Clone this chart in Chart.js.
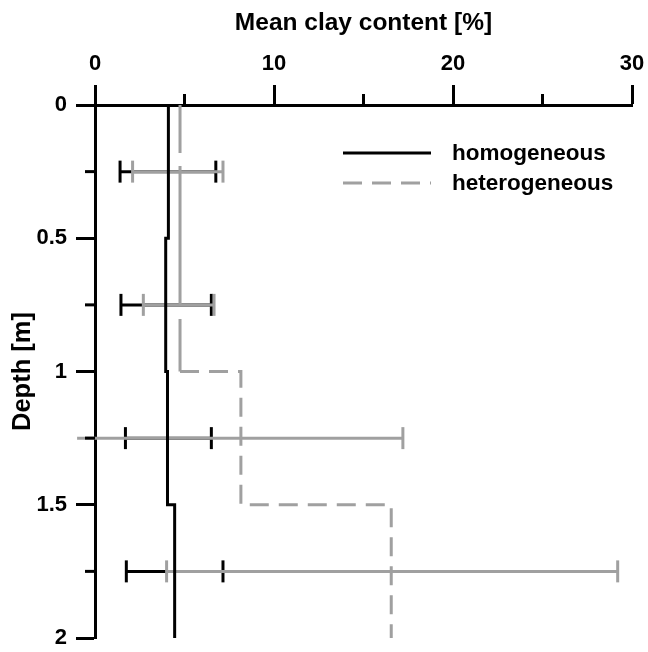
<!DOCTYPE html>
<html>
<head>
<meta charset="utf-8">
<script src="https://cdn.jsdelivr.net/npm/chart.js@4/dist/chart.umd.min.js"></script>
<style>
  html, body { margin: 0; padding: 0; background: #fff; }
  #wrap { width: 648px; height: 652px; position: relative; }
</style>
</head>
<body>
<div id="wrap"><canvas id="clayChart"></canvas></div>
<script>
// depth layers [m] and mean clay content [%] per layer
const depthEdges = [0, 0.5, 1.0, 1.5, 2.0];
const homogeneousMean = [4.1, 3.95, 4.05, 4.45];
const heterogeneousMean = [4.75, 4.75, 8.15, 16.55];

// range bars at mid-layer depths
const barDepths = [0.25, 0.75, 1.25, 1.75];
const homogeneousLow = [1.4, 1.45, 1.7, 1.75];
const homogeneousHigh = [6.75, 6.5, 6.5, 7.15];
const heterogeneousLow = [2.1, 2.7, -1.0, 4.0];
const heterogeneousHigh = [7.15, 6.65, 17.2, 29.2];

const BLACK = '#000000';
const GREY = '#a0a0a0';
const FONT = 'Liberation Sans, Arial, sans-serif';

function stepPoints(means) {
    const pts = [];
    means.forEach((m, i) => {
        pts.push({x: m, y: depthEdges[i]});
        pts.push({x: m, y: depthEdges[i + 1]});
    });
    return pts;
}

function rangeBars(low, high, color) {
    return barDepths.map((d, i) => ({
        label: 'range',
        data: [{x: low[i], y: d}, {x: high[i], y: d}],
        borderColor: color,
        backgroundColor: color,
        borderWidth: 3,
        pointStyle: 'line',
        pointRotation: 90,
        pointRadius: 11,
        pointBorderWidth: 3,
        pointBorderColor: color,
        showLine: true,
        fill: false,
        clip: false
    }));
}

// upper metre of the dashed profile is drawn with long dashes in the original
const upperRun = c => c.p1.parsed.y <= 1 && c.p0.parsed.x === c.p1.parsed.x;

const datasets = [
    {
        label: 'homogeneous',
        data: stepPoints(homogeneousMean),
        borderColor: BLACK,
        borderWidth: 3,
        pointRadius: 0,
        showLine: true,
        fill: false
    },
    {
        label: 'heterogeneous',
        data: stepPoints(heterogeneousMean),
        borderColor: GREY,
        borderWidth: 3,
        borderDash: [19, 10],
        pointRadius: 0,
        showLine: true,
        fill: false,
        segment: {
            borderDash: c => upperRun(c) ? [140, 13] : [19, 10],
            borderDashOffset: c => upperRun(c) ? 92 : 0
        }
    },
    ...rangeBars(heterogeneousLow, heterogeneousHigh, GREY),
    ...rangeBars(homogeneousLow, homogeneousHigh, BLACK)
];

// short minor ticks + legend drawn in the plot area
const extras = {
    id: 'extras',
    afterDraw(chart) {
        const ctx = chart.ctx;
        const xs = chart.scales.x, ys = chart.scales.y;
        ctx.save();
        ctx.strokeStyle = BLACK;
        ctx.lineWidth = 3;
        xs.ticks.forEach(t => {
            if (t.value % 10 !== 0) {
                const px = xs.getPixelForValue(t.value);
                ctx.beginPath();
                ctx.moveTo(px, xs.bottom);
                ctx.lineTo(px, xs.bottom - 11);
                ctx.stroke();
            }
        });
        ys.ticks.forEach(t => {
            if (Math.abs(t.value * 2 - Math.round(t.value * 2)) > 1e-6) {
                const py = ys.getPixelForValue(t.value);
                ctx.beginPath();
                ctx.moveTo(ys.right, py);
                ctx.lineTo(ys.right - 10, py);
                ctx.stroke();
            }
        });

        const items = [
            {text: 'homogeneous', color: BLACK, dash: []},
            {text: 'heterogeneous', color: GREY, dash: [19, 10]}
        ];
        ctx.font = 'bold 22.5px ' + FONT;
        ctx.textBaseline = 'middle';
        items.forEach((it, i) => {
            const y = 153 + i * 30;
            ctx.strokeStyle = it.color;
            ctx.setLineDash(it.dash);
            ctx.beginPath();
            ctx.moveTo(343, y);
            ctx.lineTo(431, y);
            ctx.stroke();
            ctx.setLineDash([]);
            ctx.fillStyle = BLACK;
            ctx.fillText(it.text, 452, y + 1);
        });
        ctx.restore();
    }
};

function noOverflow(s) {
    s.paddingLeft = 0;
    s.paddingRight = 0;
    s.paddingTop = 0;
    s.paddingBottom = 0;
}

new Chart(document.getElementById('clayChart').getContext('2d'), {
    type: 'scatter',
    data: {datasets: datasets},
    options: {
        responsive: true,
        maintainAspectRatio: false,
        animation: false,
        layout: {padding: {left: 0, top: 0, right: 16, bottom: 12}},
        plugins: {
            legend: {display: false},
            tooltip: {enabled: false}
        },
        scales: {
            x: {
                type: 'linear',
                position: 'top',
                min: 0,
                max: 30,
                afterFit: s => { s.height = 105; noOverflow(s); },
                border: {display: true, color: BLACK, width: 3},
                grid: {
                    drawOnChartArea: false,
                    tickLength: 20,
                    tickWidth: 3,
                    tickColor: c => (c.tick && c.tick.value % 10 === 0) ? BLACK : 'rgba(0,0,0,0)'
                },
                ticks: {
                    stepSize: 5,
                    color: BLACK,
                    padding: 8,
                    maxRotation: 0,
                    font: {family: FONT, size: 22, weight: 'bold'},
                    callback: v => (v % 10 === 0 ? String(v) : '')
                },
                title: {
                    display: true,
                    text: 'Mean clay content [%]',
                    color: BLACK,
                    font: {family: FONT, size: 24.5, weight: 'bold'},
                    padding: {top: 9, bottom: 4}
                }
            },
            y: {
                type: 'linear',
                reverse: true,
                min: 0,
                max: 2,
                afterFit: s => { s.width = 95; noOverflow(s); },
                border: {display: true, color: BLACK, width: 3},
                grid: {
                    drawOnChartArea: false,
                    tickLength: 19,
                    tickWidth: 3,
                    tickColor: c => (c.tick && Math.abs(c.tick.value * 2 - Math.round(c.tick.value * 2)) < 1e-6) ? BLACK : 'rgba(0,0,0,0)'
                },
                ticks: {
                    stepSize: 0.25,
                    color: BLACK,
                    padding: 9,
                    font: {family: FONT, size: 22, weight: 'bold'},
                    callback: v => (Math.abs(v * 2 - Math.round(v * 2)) < 1e-6 ? String(v) : '')
                },
                title: {
                    display: true,
                    text: 'Depth [m]',
                    color: BLACK,
                    font: {family: FONT, size: 25.5, weight: 'bold'},
                    padding: {top: 8, bottom: 0}
                }
            }
        }
    },
    plugins: [extras]
});
</script>
</body>
</html>
